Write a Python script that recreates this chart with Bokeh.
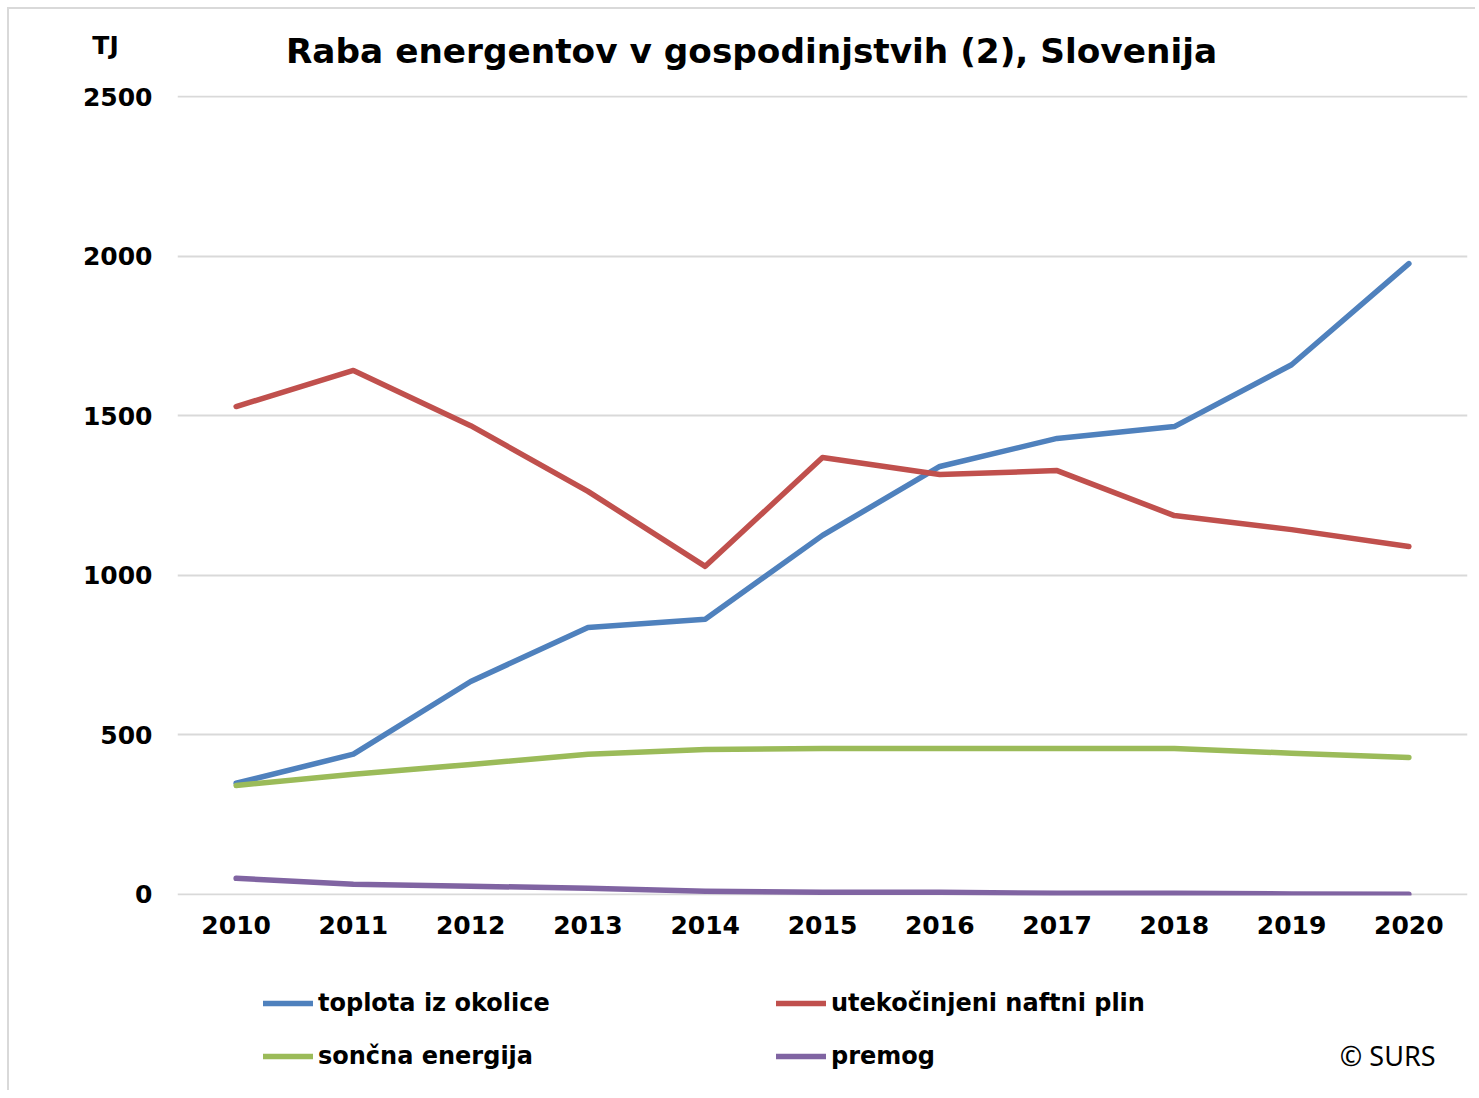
from bokeh.plotting import figure
from bokeh.models import Legend, LegendItem, Label, FixedTicker, Range1d
from bokeh.layouts import column
from bokeh.embed import file_html
from bokeh.resources import INLINE

years = [2010, 2011, 2012, 2013, 2014, 2015, 2016, 2017, 2018, 2019, 2020]
toplota = [348, 439, 667, 836, 862, 1125, 1341, 1429, 1466, 1660, 1977]
utekocinjeni = [1529, 1642, 1469, 1263, 1028, 1369, 1316, 1328, 1187, 1143, 1090]
soncna = [341, 376, 407, 439, 454, 457, 457, 457, 457, 442, 429]
premog = [50, 31, 25, 19, 9, 6, 6, 3, 3, 1, 0]
y_ticks = [0, 500, 1000, 1500, 2000, 2500]

names = ["toplota iz okolice", "utekočinjeni naftni plin", "sončna energija", "premog"]
colors = ["#4F81BD", "#C0504D", "#9BBB59", "#8064A2"]
title_text = "Raba energentov v gospodinjstvih (2), Slovenija"
unit_text = "TJ"
source_text = "© SURS"

FONT = "DejaVu Sans"
W = 1466


def no_align(f):
    if "frame_align" in f.properties():
        f.frame_align = False


def blank(h):
    f = figure(width=W, height=h, output_backend="svg", toolbar_location=None,
               x_range=Range1d(0, W), y_range=Range1d(0, h),
               min_border=0, min_border_left=0, min_border_right=0,
               min_border_top=0, min_border_bottom=0)
    f.axis.visible = False
    f.grid.visible = False
    f.outline_line_color = None
    f.background_fill_color = "white"
    f.border_fill_color = "white"
    no_align(f)
    return f


# header: unit and title
head = blank(70)
head.add_layout(Label(x=742, y=29, x_units="screen", y_units="screen", text=title_text,
                      text_font=FONT, text_font_style="bold", text_font_size="34.3px",
                      text_align="center", text_baseline="middle", text_color="black"))
head.add_layout(Label(x=96, y=34, x_units="screen", y_units="screen", text=unit_text,
                      text_font=FONT, text_font_style="bold", text_font_size="25px",
                      text_align="center", text_baseline="middle", text_color="black"))

# main chart
p = figure(width=W, height=871, output_backend="svg", toolbar_location=None,
           x_range=Range1d(2009.5, 2020.5), y_range=Range1d(-4, 2504),
           min_border_left=168, min_border_right=8, min_border_top=16, min_border_bottom=55)
no_align(p)
p.outline_line_color = None
p.background_fill_color = "white"
p.border_fill_color = "white"
p.xgrid.grid_line_color = None
p.ygrid.grid_line_color = "#d9d9d9"
p.ygrid.grid_line_width = 2
p.xaxis.ticker = FixedTicker(ticks=years)
p.yaxis.ticker = FixedTicker(ticks=y_ticks)
for ax in (p.xaxis, p.yaxis):
    ax.axis_line_color = None
    ax.major_tick_line_color = None
    ax.minor_tick_line_color = None
    ax.major_tick_out = 0
    ax.major_tick_in = 0
    ax.minor_tick_out = 0
    ax.major_label_text_font = FONT
    ax.major_label_text_font_style = "bold"
    ax.major_label_text_font_size = "25px"
    ax.major_label_text_color = "black"
p.yaxis.major_label_standoff = 25
p.xaxis.major_label_standoff = 20

series = [toplota, utekocinjeni, soncna, premog]
for vals, c in zip(series, colors):
    p.line(years, vals, line_color=c, line_width=5.5, line_join="round", line_cap="round")

# footer: legend and source
foot = blank(140)
nan = float("nan")
keys = [foot.line([nan], [nan], line_color=c, line_width=5.5, line_cap="round") for c in colors]


def mk_legend(idx, vx, vy):
    lg = Legend(items=[LegendItem(label=names[i], renderers=[keys[i]]) for i in idx],
                location=(vx, vy), orientation="vertical",
                border_line_color=None, background_fill_alpha=0,
                padding=0, margin=0, spacing=25,
                glyph_width=50, glyph_height=24, label_height=24, label_standoff=5,
                label_text_font=FONT, label_text_font_style="bold",
                label_text_font_size="24px", label_text_color="black")
    foot.add_layout(lg, "center")


mk_legend([0, 2], 254, 20)
mk_legend([1, 3], 767, 20)
foot.add_layout(Label(x=1426, y=35, x_units="screen", y_units="screen", text=source_text,
                      text_font="Noto Sans", text_font_size="27px",
                      text_align="right", text_baseline="middle", text_color="black"))

layout = column(head, p, foot, spacing=0)
layout.styles = {"margin-left": "7px", "margin-top": "7px",
                 "border-left": "2px solid #d9d9d9", "border-top": "2px solid #d9d9d9"}

open("out.html", "w").write(file_html(layout, INLINE))
